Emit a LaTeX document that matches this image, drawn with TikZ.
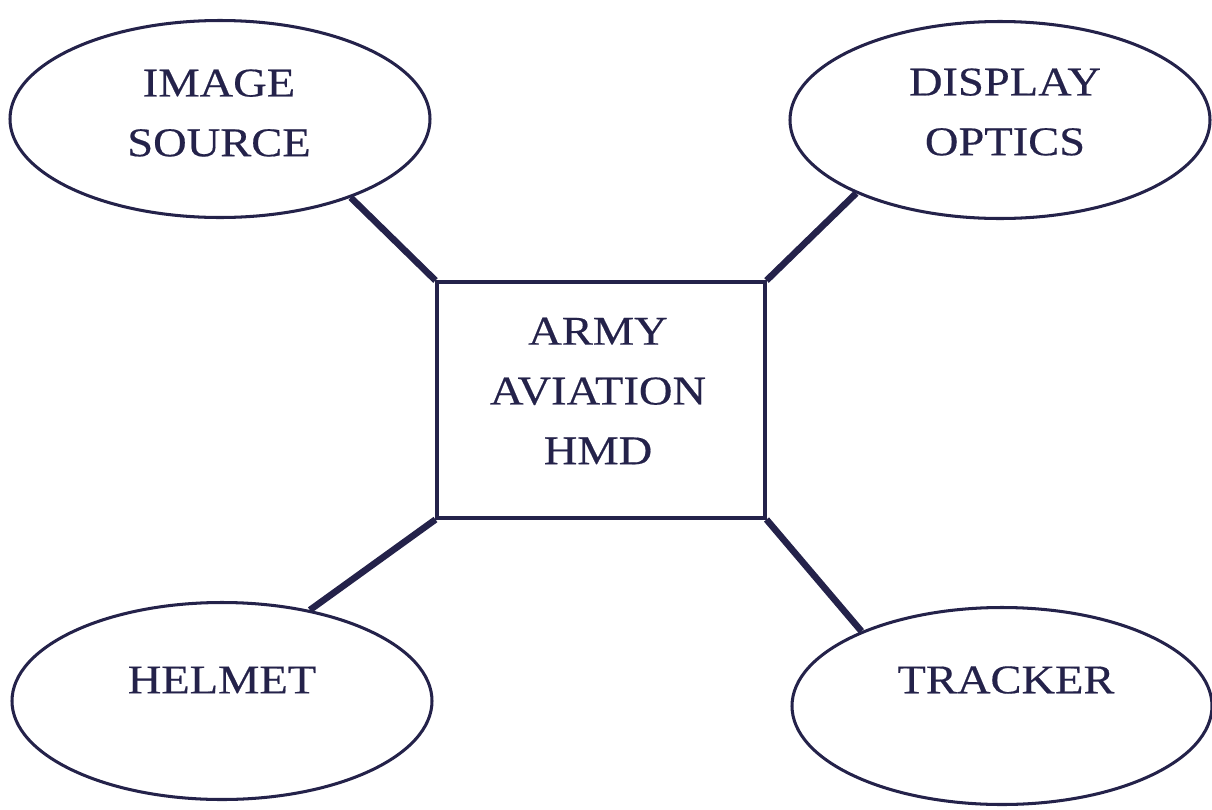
\documentclass[tikz,border=0pt]{standalone}
\usepackage{fontspec}
\setmainfont{Liberation Serif}[FakeStretch=1.14, FakeBold=0.4]
\usetikzlibrary{shapes.geometric}
\definecolor{ink}{HTML}{24224A}
\tikzset{
  part/.style={ellipse, draw=ink, line width=3pt*0.72, minimum width=420*0.025cm, minimum height=197*0.025cm, inner sep=0pt},
  core/.style={rectangle, draw=ink, line width=3pt*0.72, minimum width=328*0.025cm, minimum height=236*0.025cm, inner sep=0pt},
  label/.style={text=ink, font=\fontsize{29}{42.5}\selectfont, align=center},
  link/.style={draw=ink, line width=6.5pt*0.72}
}
\begin{document}
\begin{tikzpicture}[x=0.025cm, y=-0.025cm]
  \useasboundingbox (0,0) rectangle (1212,810);
  % satellite components
  \node[part] (src) at (220,119) {};
  \node[part] (opt) at (1000,120) {};
  \node[part] (hel) at (222,701) {};
  \node[part] (trk) at (1002,706) {};
  % central block
  \node[core] (hmd) at (601,400) {};
  % labels
  \node[label] at (219,113) {IMAGE\\SOURCE};
  \node[label] at (1005,112) {DISPLAY\\OPTICS};
  \node[label] at (222,680) {HELMET};
  \node[label] at (1006,680) {TRACKER};
  \node[label] at (598,391) {ARMY\\AVIATION\\HMD};
  % connectors
  \draw[link] (hmd.north west) -- (src.-31);
  \draw[link] (hmd.north east) -- (opt.-153);
  \draw[link] (hmd.south west) -- (hel.46);
  \draw[link] (hmd.south east) -- (trk.152);
\end{tikzpicture}
\end{document}
